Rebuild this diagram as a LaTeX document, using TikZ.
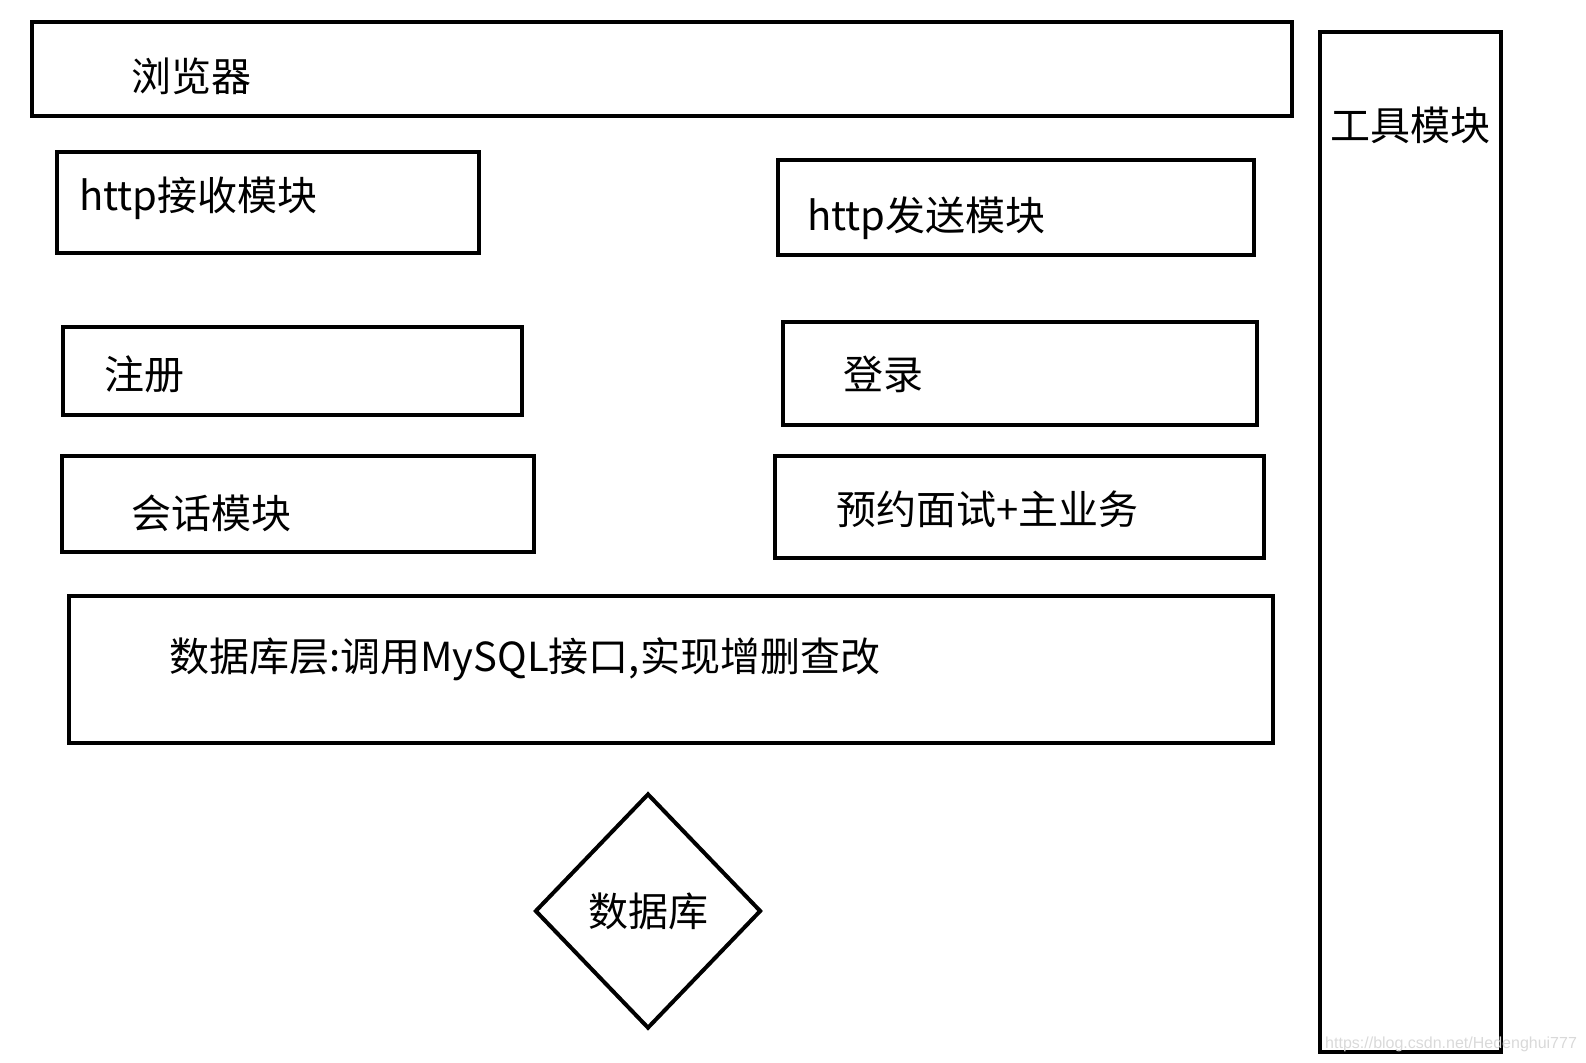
\documentclass[tikz,border=0pt]{standalone}
\usepackage{fontspec}
\newfontfamily\cjk{Noto Sans CJK SC}
\newfontfamily\wmfont{Liberation Sans}
\usetikzlibrary{shapes.geometric}

\begin{document}
\begin{tikzpicture}[x=1pt,y=-1pt,
    box/.style={draw,line width=4pt,inner sep=0pt},
    lbl/.style={anchor=west,inner sep=0pt,font={\cjk\fontsize{40}{48}\selectfont}}]
  \useasboundingbox (0,0) rectangle (1586,1062);
  \node[box,minimum width=1260pt,minimum height=94pt] (browser) at (662,69) {};
  \node[box,minimum width=181pt,minimum height=1020pt] (tools) at (1410.5,542) {};
  \node[box,minimum width=422pt,minimum height=101pt] (recv) at (268,202.5) {};
  \node[box,minimum width=476pt,minimum height=95pt] (send) at (1016,207.5) {};
  \node[box,minimum width=459pt,minimum height=88pt] (reg) at (292.5,371) {};
  \node[box,minimum width=474pt,minimum height=103pt] (login) at (1020,373.5) {};
  \node[box,minimum width=472pt,minimum height=96pt] (session) at (298,504) {};
  \node[box,minimum width=489pt,minimum height=102pt] (interview) at (1019.5,507) {};
  \node[box,minimum width=1204pt,minimum height=147pt] (dblayer) at (671,669.5) {};
  \node[box,diamond,minimum width=226pt,minimum height=235pt,
        font={\cjk\fontsize{40}{48}\selectfont}] (db) at (648,911) {数据库};

  \node[lbl] (browsertxt) at (131,76) {浏览器};
  \node[lbl] (toolstxt) at (1330,125) {工具模块};
  \node[lbl] (recvtxt) at (79,198) {http接收模块};
  \node[lbl] (sendtxt) at (807,218) {http发送模块};
  \node[lbl] (regtxt) at (104,374) {注册};
  \node[lbl] (logintxt) at (843,374) {登录};
  \node[lbl] (sessiontxt) at (131,513) {会话模块};
  \node[lbl] (interviewtxt) at (836,509) {预约面试+主业务};
  \node[lbl] (dblayertxt) at (169,659) {数据库层:调用MySQL接口,实现增删查改};

  \node[anchor=west,inner sep=0pt,text=gray!30,font={\wmfont\fontsize{16}{19}\selectfont}]
    (mark) at (1325,1044) {https://blog.csdn.net/Hedenghui777};
\end{tikzpicture}
\end{document}
